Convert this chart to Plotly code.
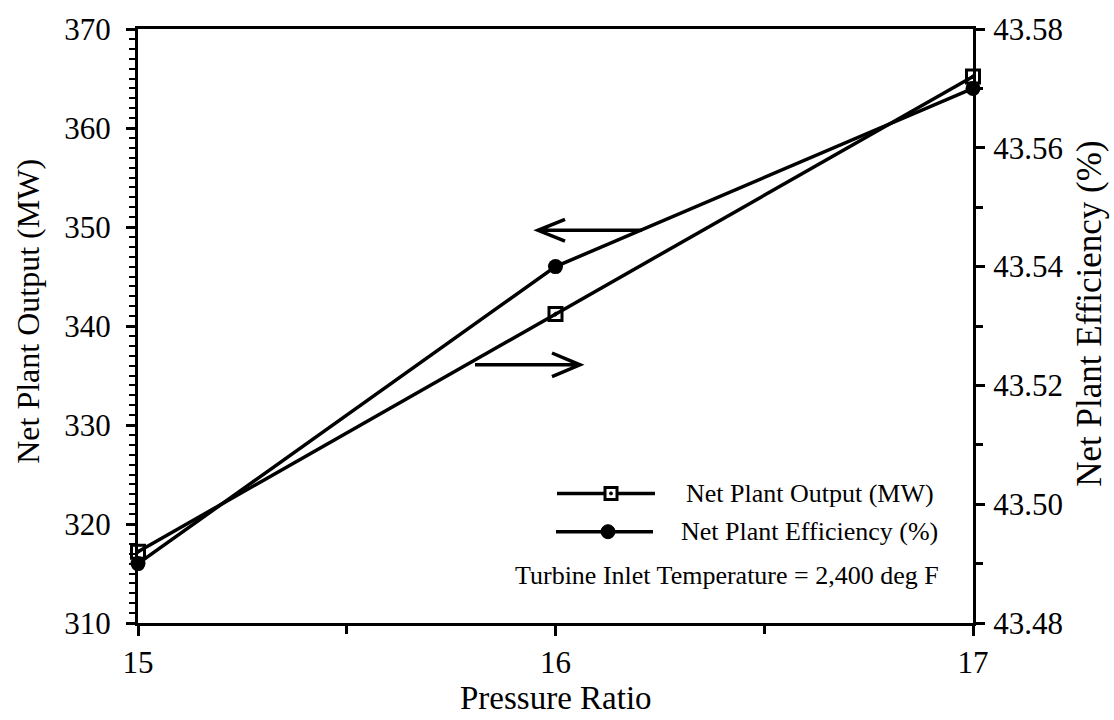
import plotly.graph_objects as go

# Pressure ratio sweep at a fixed turbine inlet temperature
pressure_ratio = [15, 16, 17]
net_output_mw = [317.2, 341.2, 365.2]
net_efficiency_pct = [43.490, 43.540, 43.570]

right_ticks = [43.48, 43.50, 43.52, 43.54, 43.56, 43.58]
right_tick_text = ["43.48", "43.50", "43.52", "43.54", "43.56", "43.58"]
x_ticks = [15, 16, 17]

legend_labels = ["Net Plant Output (MW)", "Net Plant Efficiency (%)"]
note_text = "Turbine Inlet Temperature = 2,400 deg F"

FONT = "Liberation Serif"
INK = "black"

fig = go.Figure()

fig.add_trace(go.Scatter(
    x=pressure_ratio, y=net_output_mw, name=legend_labels[0], mode="lines+markers",
    line=dict(color=INK, width=3.5),
    marker=dict(symbol="square-open-dot", size=13, color=INK, line=dict(width=3, color=INK)),
    yaxis="y", cliponaxis=False, showlegend=False,
))
fig.add_trace(go.Scatter(
    x=pressure_ratio, y=net_efficiency_pct, name=legend_labels[1], mode="lines+markers",
    line=dict(color=INK, width=3.5),
    marker=dict(symbol="circle", size=15, color=INK),
    yaxis="y2", cliponaxis=False, showlegend=False,
))

shapes = []
# plot-area pixel geometry used to place the decorations
L, R, T, B = 138, 973, 18, 623
def px(xp):
    return (xp - L) / (R - L)
def py(yp):
    return (B - yp) / (B - T)

# direction arrows pointing to each series' axis
def arrow(tail, tip, y, back, half):
    d = (f"M{px(tail)},{py(y)} L{px(tip)},{py(y)} "
         f"M{px(back)},{py(y - half)} L{px(tip)},{py(y)} L{px(back)},{py(y + half)}")
    return dict(type="path", xref="paper", yref="paper", path=d,
                line=dict(color=INK, width=3.5), layer="above")

shapes.append(arrow(642, 538, 223, 565, 11))
shapes.append(arrow(475, 580, 360, 552, 12))

# legend keys
rows = [(491, 557, 655, 611), (530, 556, 653, 608)]
for (yy, x0, x1, _) in rows:
    shapes.append(dict(type="line", xref="paper", yref="paper",
                       x0=px(x0), x1=px(x1), y0=py(yy), y1=py(yy),
                       line=dict(color=INK, width=3.5), layer="above"))
yy, _, _, xm = rows[0]
shapes.append(dict(type="rect", xref="paper", yref="paper", xsizemode="pixel", ysizemode="pixel",
                   xanchor=px(xm), yanchor=py(yy), x0=-6, x1=6, y0=-6, y1=6,
                   fillcolor="white", line=dict(color=INK, width=3), layer="above"))
shapes.append(dict(type="circle", xref="paper", yref="paper", xsizemode="pixel", ysizemode="pixel",
                   xanchor=px(xm), yanchor=py(yy), x0=-1.5, x1=1.5, y0=-1.5, y1=1.5,
                   fillcolor=INK, line=dict(color=INK, width=1), layer="above"))
yy, _, _, xm = rows[1]
shapes.append(dict(type="circle", xref="paper", yref="paper", xsizemode="pixel", ysizemode="pixel",
                   xanchor=px(xm), yanchor=py(yy), x0=-7, x1=7, y0=-7, y1=7,
                   fillcolor=INK, line=dict(color=INK, width=1), layer="above"))

annotations = [
    dict(xref="paper", yref="paper", x=px(684), y=py(491), xanchor="left", yanchor="middle",
         text=legend_labels[0], showarrow=False, font=dict(family=FONT, size=26, color=INK)),
    dict(xref="paper", yref="paper", x=px(679), y=py(530), xanchor="left", yanchor="middle",
         text=legend_labels[1], showarrow=False, font=dict(family=FONT, size=26, color=INK)),
    dict(xref="paper", yref="paper", x=px(941), y=py(575), xanchor="right", yanchor="middle",
         text=note_text, showarrow=False, font=dict(family=FONT, size=26, color=INK)),
    # axis titles
    dict(xref="paper", yref="paper", x=px(28), y=py(305), xanchor="center", yanchor="middle",
         text="Net Plant Output (MW)", textangle=-90, showarrow=False,
         font=dict(family=FONT, size=32, color=INK)),
    dict(xref="paper", yref="paper", x=px(1090), y=py(308), xanchor="center", yanchor="middle",
         text="Net Plant Efficiency (%)", textangle=-90, showarrow=False,
         font=dict(family=FONT, size=35, color=INK)),
    dict(xref="paper", yref="paper", x=0.5, y=py(720), xanchor="center", yanchor="bottom",
         text="Pressure Ratio", showarrow=False, font=dict(family=FONT, size=33, color=INK)),
]

tick_font = dict(family=FONT, size=31, color=INK)

fig.update_layout(
    width=1114, height=720,
    margin=dict(l=L, r=1114 - R, t=T, b=720 - B, pad=0),
    paper_bgcolor="white", plot_bgcolor="white",
    showlegend=False,
    shapes=shapes, annotations=annotations,
    xaxis=dict(
        range=[15, 17], tickvals=x_ticks, ticktext=[str(v) for v in x_ticks],
        showgrid=False, zeroline=False, showline=True, mirror=True,
        linecolor=INK, linewidth=3, ticks="outside", ticklen=10, tickwidth=3, tickcolor=INK,
        tickfont=tick_font, ticklabelstandoff=0,
        minor=dict(dtick=0.5, ticks="outside", ticklen=8, tickwidth=2.5, tickcolor=INK),
    ),
    yaxis=dict(
        range=[310, 370], tickmode="linear", tick0=310, dtick=10,
        showgrid=False, zeroline=False, showline=True,
        linecolor=INK, linewidth=3, ticks="outside", ticklen=9, tickwidth=3, tickcolor=INK,
        tickfont=tick_font, ticklabelstandoff=9,
        minor=dict(tick0=310, dtick=1, ticks="outside", ticklen=6, tickwidth=2, tickcolor=INK),
    ),
    yaxis2=dict(
        range=[43.48, 43.58], tickvals=right_ticks, ticktext=right_tick_text,
        overlaying="y", side="right",
        showgrid=False, zeroline=False, showline=True,
        linecolor=INK, linewidth=3, ticks="outside", ticklen=9, tickwidth=3, tickcolor=INK,
        tickfont=tick_font, ticklabelstandoff=2,
        minor=dict(dtick=0.01, ticks="outside", ticklen=7, tickwidth=2.5, tickcolor=INK),
    ),
)

fig.write_html("out.html")
